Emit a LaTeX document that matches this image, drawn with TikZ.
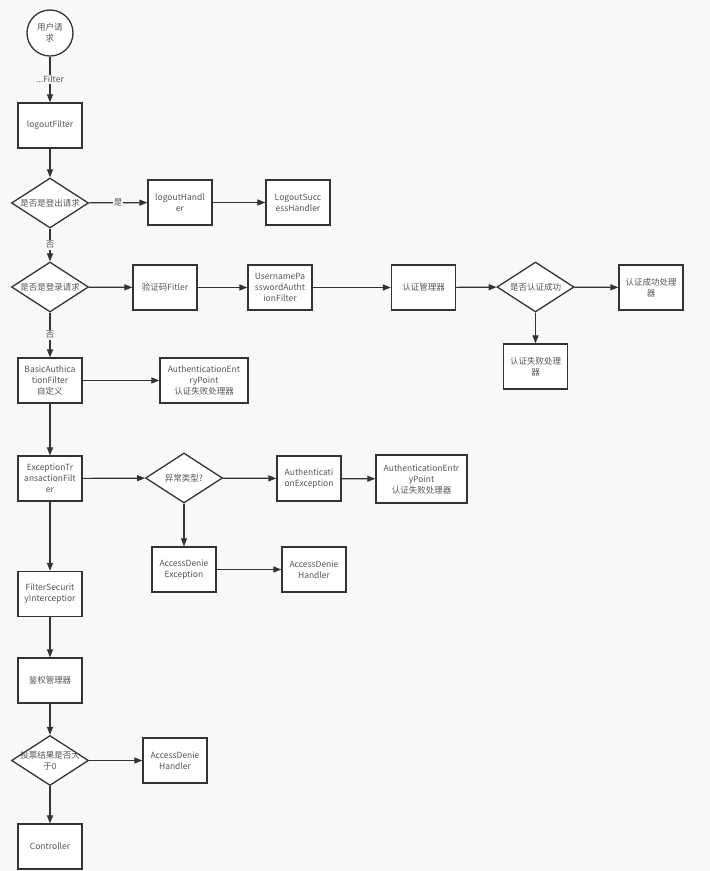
\documentclass[tikz,border=0pt]{standalone}
\usepackage{fontspec}
\setmainfont{Noto Sans CJK SC}
\usetikzlibrary{shapes.geometric,arrows.meta}
\definecolor{bg}{HTML}{F8F8F8}
\definecolor{ln}{HTML}{333333}
\definecolor{tx}{HTML}{555555}
\tikzset{
  x=1pt,y=-1pt,
  every node/.style={font=\fontsize{8.5}{11}\selectfont, text=tx, align=center},
  box/.style={draw=ln, line width=1.3pt, fill=white, minimum width=64pt, minimum height=45pt, inner sep=1pt},
  dia/.style={draw=ln, line width=1.3pt, fill=white, diamond, inner sep=0pt, minimum width=77pt, minimum height=50pt},
  circ/.style={draw=ln, line width=1.3pt, fill=white, circle, minimum size=46pt, inner sep=0pt},
  arr/.style={draw=ln, line width=1.2pt, -{Triangle[length=8pt,width=6pt]}},
  lbl/.style={fill=bg, inner sep=1pt},
}
\begin{document}
\begin{tikzpicture}
\fill[bg] (0,0) rectangle (710,871);
\useasboundingbox (0,0) rectangle (710,871);
% main column
\node[circ] (u) at (50,33) {用户请\\求};
\node[box] (lf) at (50,125.5) {logoutFilter};
\node[dia] (d1) at (50,203) {};
\node at (d1) {是否是登出请求};
\node[box] (lh) at (180,202.5) {logoutHandl\\er};
\node[box] (lsh) at (298,202.5) {LogoutSucc\\essHandler};
\node[dia] (d2) at (50,287) {};
\node at (d2) {是否是登录请求};
\node[box] (vc) at (165,287.5) {验证码Fitler};
\node[box] (up) at (280,287.5) {UsernamePa\\sswordAutht\\ionFilter};
\node[box] (am) at (423.5,287.5) {认证管理器};
\node[dia] (d3) at (535.5,287) {};
\node at (d3) {是否认证成功};
\node[box] (sh) at (651,287.5) {认证成功处理\\器};
\node[box] (fh) at (535.5,366.5) {认证失败处理\\器};
\node[box] (ba) at (50,380.5) {BasicAuthica\\tionFilter\\自定义};
\node[box, minimum width=88pt] (aep1) at (204,380.5) {AuthenticationEnt\\ryPoint\\认证失败处理器};
\node[box] (etf) at (50,478.5) {ExceptionTr\\ansactionFilt\\er};
\node[dia] (d4) at (184,478) {};
\node at (d4) {异常类型?};
\node[box] (ae) at (309,478.5) {Authenticati\\onException};
\node[box, minimum width=91pt, minimum height=48pt] (aep2) at (421.5,479) {AuthenticationEntr\\yPoint\\认证失败处理器};
\node[box] (ade) at (184,569.5) {AccessDenie\\Exception};
\node[box] (adh1) at (314,569.5) {AccessDenie\\Handler};
\node[box] (fsi) at (50,594) {FilterSecurit\\yInterceptior};
\node[box] (jq) at (50,680.5) {鉴权管理器};
\node[dia] (d5) at (50,760.5) {};
\node at (d5) {投票结果是否大\\于0};
\node[box] (adh2) at (175,760.5) {AccessDenie\\Handler};
\node[box] (ctrl) at (50,846.5) {Controller};
% connectors
\draw[arr] (u) -- node[lbl, pos=0.5] {...Filter} (lf);
\draw[arr] (lf) -- (d1);
\draw[arr] (d1) -- node[lbl, pos=0.5] {是} (lh);
\draw[arr] (lh) -- (lsh);
\draw[arr] (d1) -- node[lbl, pos=0.5] {否} (d2);
\draw[arr] (d2) -- (vc);
\draw[arr] (vc) -- (up);
\draw[arr] (up) -- (am);
\draw[arr] (am) -- (d3);
\draw[arr] (d3) -- (sh);
\draw[arr] (d3) -- (fh);
\draw[arr] (d2) -- node[lbl, pos=0.5] {否} (ba);
\draw[arr] (ba) -- (aep1);
\draw[arr] (ba) -- (etf);
\draw[arr] (etf) -- (d4);
\draw[arr] (d4) -- (ae);
\draw[arr] (ae) -- (aep2);
\draw[arr] (d4) -- (ade);
\draw[arr] (ade) -- (adh1);
\draw[arr] (etf) -- (fsi);
\draw[arr] (fsi) -- (jq);
\draw[arr] (jq) -- (d5);
\draw[arr] (d5) -- (adh2);
\draw[arr] (d5) -- (ctrl);
\end{tikzpicture}
\end{document}
